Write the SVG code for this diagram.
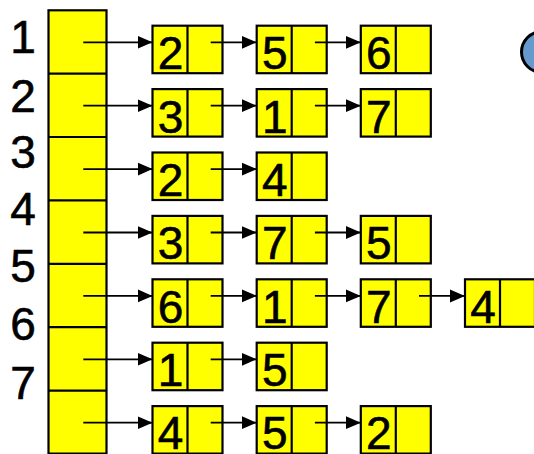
<svg xmlns="http://www.w3.org/2000/svg" width="534" height="454" viewBox="0 0 534 454">
<style>
.cell{fill:#ffff00;stroke:#000;stroke-width:2.2}
.div{stroke:#000;stroke-width:2.2}
.lbl{font-family:"Liberation Sans",Arial,sans-serif;font-size:46px;fill:#000;stroke:#000;stroke-width:0.6;text-anchor:middle}
.con{stroke:#000;stroke-width:1.8;fill:none;marker-end:url(#ah)}
</style>
<defs>
<marker id="ah" markerUnits="userSpaceOnUse" markerWidth="16" markerHeight="14" refX="15" refY="7" orient="auto">
<path d="M0,0.5 L15,7 L0,13.5 Z" fill="#000"/>
</marker>
<g id="nbox">
<rect class="cell" x="0" y="0" width="70" height="47.5"/>
<line class="div" x1="35" y1="0" x2="35" y2="47.5"/>
</g>
</defs>
<rect width="534" height="454" fill="#fff"/>
<g id="index-labels">
<text class="lbl" x="23" y="52.5">1</text>
<text class="lbl" x="23" y="111.5">2</text>
<text class="lbl" x="23" y="167.5">3</text>
<text class="lbl" x="23" y="225">4</text>
<text class="lbl" x="23" y="282">5</text>
<text class="lbl" x="23" y="340">6</text>
<text class="lbl" x="23" y="399">7</text>
</g>
<g id="array">
<rect class="cell" x="48.5" y="10.3" width="58" height="443.3"/>
<line class="div" x1="48.5" y1="73.6" x2="106.5" y2="73.6"/>
<line class="div" x1="48.5" y1="137" x2="106.5" y2="137"/>
<line class="div" x1="48.5" y1="200.4" x2="106.5" y2="200.4"/>
<line class="div" x1="48.5" y1="263.8" x2="106.5" y2="263.8"/>
<line class="div" x1="48.5" y1="327.2" x2="106.5" y2="327.2"/>
<line class="div" x1="48.5" y1="390.6" x2="106.5" y2="390.6"/>
</g>
<!-- row 1 -->
<g id="n1a" transform="translate(152.5,25.7)"><use href="#nbox"/><text class="lbl" x="18" y="43.5">2</text></g>
<g id="n1b" transform="translate(256.7,25.7)"><use href="#nbox"/><text class="lbl" x="18" y="43.5">5</text></g>
<g id="n1c" transform="translate(360.8,25.7)"><use href="#nbox"/><text class="lbl" x="18" y="43.5">6</text></g>
<!-- row 2 -->
<g id="n2a" transform="translate(152.5,89.1)"><use href="#nbox"/><text class="lbl" x="18" y="43.5">3</text></g>
<g id="n2b" transform="translate(256.7,89.1)"><use href="#nbox"/><text class="lbl" x="18" y="43.5">1</text></g>
<g id="n2c" transform="translate(360.8,89.1)"><use href="#nbox"/><text class="lbl" x="18" y="43.5">7</text></g>
<!-- row 3 -->
<g id="n3a" transform="translate(152.5,152.5)"><use href="#nbox"/><text class="lbl" x="18" y="43.5">2</text></g>
<g id="n3b" transform="translate(256.7,152.5)"><use href="#nbox"/><text class="lbl" x="18" y="43.5">4</text></g>
<!-- row 4 -->
<g id="n4a" transform="translate(152.5,215.9)"><use href="#nbox"/><text class="lbl" x="18" y="43.5">3</text></g>
<g id="n4b" transform="translate(256.7,215.9)"><use href="#nbox"/><text class="lbl" x="18" y="43.5">7</text></g>
<g id="n4c" transform="translate(360.8,215.9)"><use href="#nbox"/><text class="lbl" x="18" y="43.5">5</text></g>
<!-- row 5 -->
<g id="n5a" transform="translate(152.5,279.3)"><use href="#nbox"/><text class="lbl" x="18" y="43.5">6</text></g>
<g id="n5b" transform="translate(256.7,279.3)"><use href="#nbox"/><text class="lbl" x="18" y="43.5">1</text></g>
<g id="n5c" transform="translate(360.8,279.3)"><use href="#nbox"/><text class="lbl" x="18" y="43.5">7</text></g>
<g id="n5d" transform="translate(465,279.3)"><use href="#nbox"/><text class="lbl" x="18" y="43.5">4</text></g>
<!-- row 6 -->
<g id="n6a" transform="translate(152.5,342.7)"><use href="#nbox"/><text class="lbl" x="18" y="43.5">1</text></g>
<g id="n6b" transform="translate(256.7,342.7)"><use href="#nbox"/><text class="lbl" x="18" y="43.5">5</text></g>
<!-- row 7 -->
<g id="n7a" transform="translate(152.5,406.1)"><use href="#nbox"/><text class="lbl" x="18" y="42.5">4</text></g>
<g id="n7b" transform="translate(256.7,406.1)"><use href="#nbox"/><text class="lbl" x="18" y="42.5">5</text></g>
<g id="n7c" transform="translate(360.8,406.1)"><use href="#nbox"/><text class="lbl" x="18" y="42.5">2</text></g>
<g id="circle"><circle cx="542" cy="52" r="20.5" fill="#6699cc" stroke="#000" stroke-width="3"/></g>
<g id="connectors">
<line class="con" x1="83.3" y1="42.3" x2="152.5" y2="42.3"/>
<line class="con" x1="210.7" y1="42.3" x2="256.7" y2="42.3"/>
<line class="con" x1="314.9" y1="42.3" x2="360.8" y2="42.3"/>
<line class="con" x1="83.3" y1="105.7" x2="152.5" y2="105.7"/>
<line class="con" x1="210.7" y1="105.7" x2="256.7" y2="105.7"/>
<line class="con" x1="314.9" y1="105.7" x2="360.8" y2="105.7"/>
<line class="con" x1="83.3" y1="169.1" x2="152.5" y2="169.1"/>
<line class="con" x1="210.7" y1="169.1" x2="256.7" y2="169.1"/>
<line class="con" x1="83.3" y1="232.5" x2="152.5" y2="232.5"/>
<line class="con" x1="210.7" y1="232.5" x2="256.7" y2="232.5"/>
<line class="con" x1="314.9" y1="232.5" x2="360.8" y2="232.5"/>
<line class="con" x1="83.3" y1="295.9" x2="152.5" y2="295.9"/>
<line class="con" x1="210.7" y1="295.9" x2="256.7" y2="295.9"/>
<line class="con" x1="314.9" y1="295.9" x2="360.8" y2="295.9"/>
<line class="con" x1="419" y1="295.9" x2="465" y2="295.9"/>
<line class="con" x1="83.3" y1="359.3" x2="152.5" y2="359.3"/>
<line class="con" x1="210.7" y1="359.3" x2="256.7" y2="359.3"/>
<line class="con" x1="83.3" y1="422.7" x2="152.5" y2="422.7"/>
<line class="con" x1="210.7" y1="422.7" x2="256.7" y2="422.7"/>
<line class="con" x1="314.9" y1="422.7" x2="360.8" y2="422.7"/>
</g>
</svg>
